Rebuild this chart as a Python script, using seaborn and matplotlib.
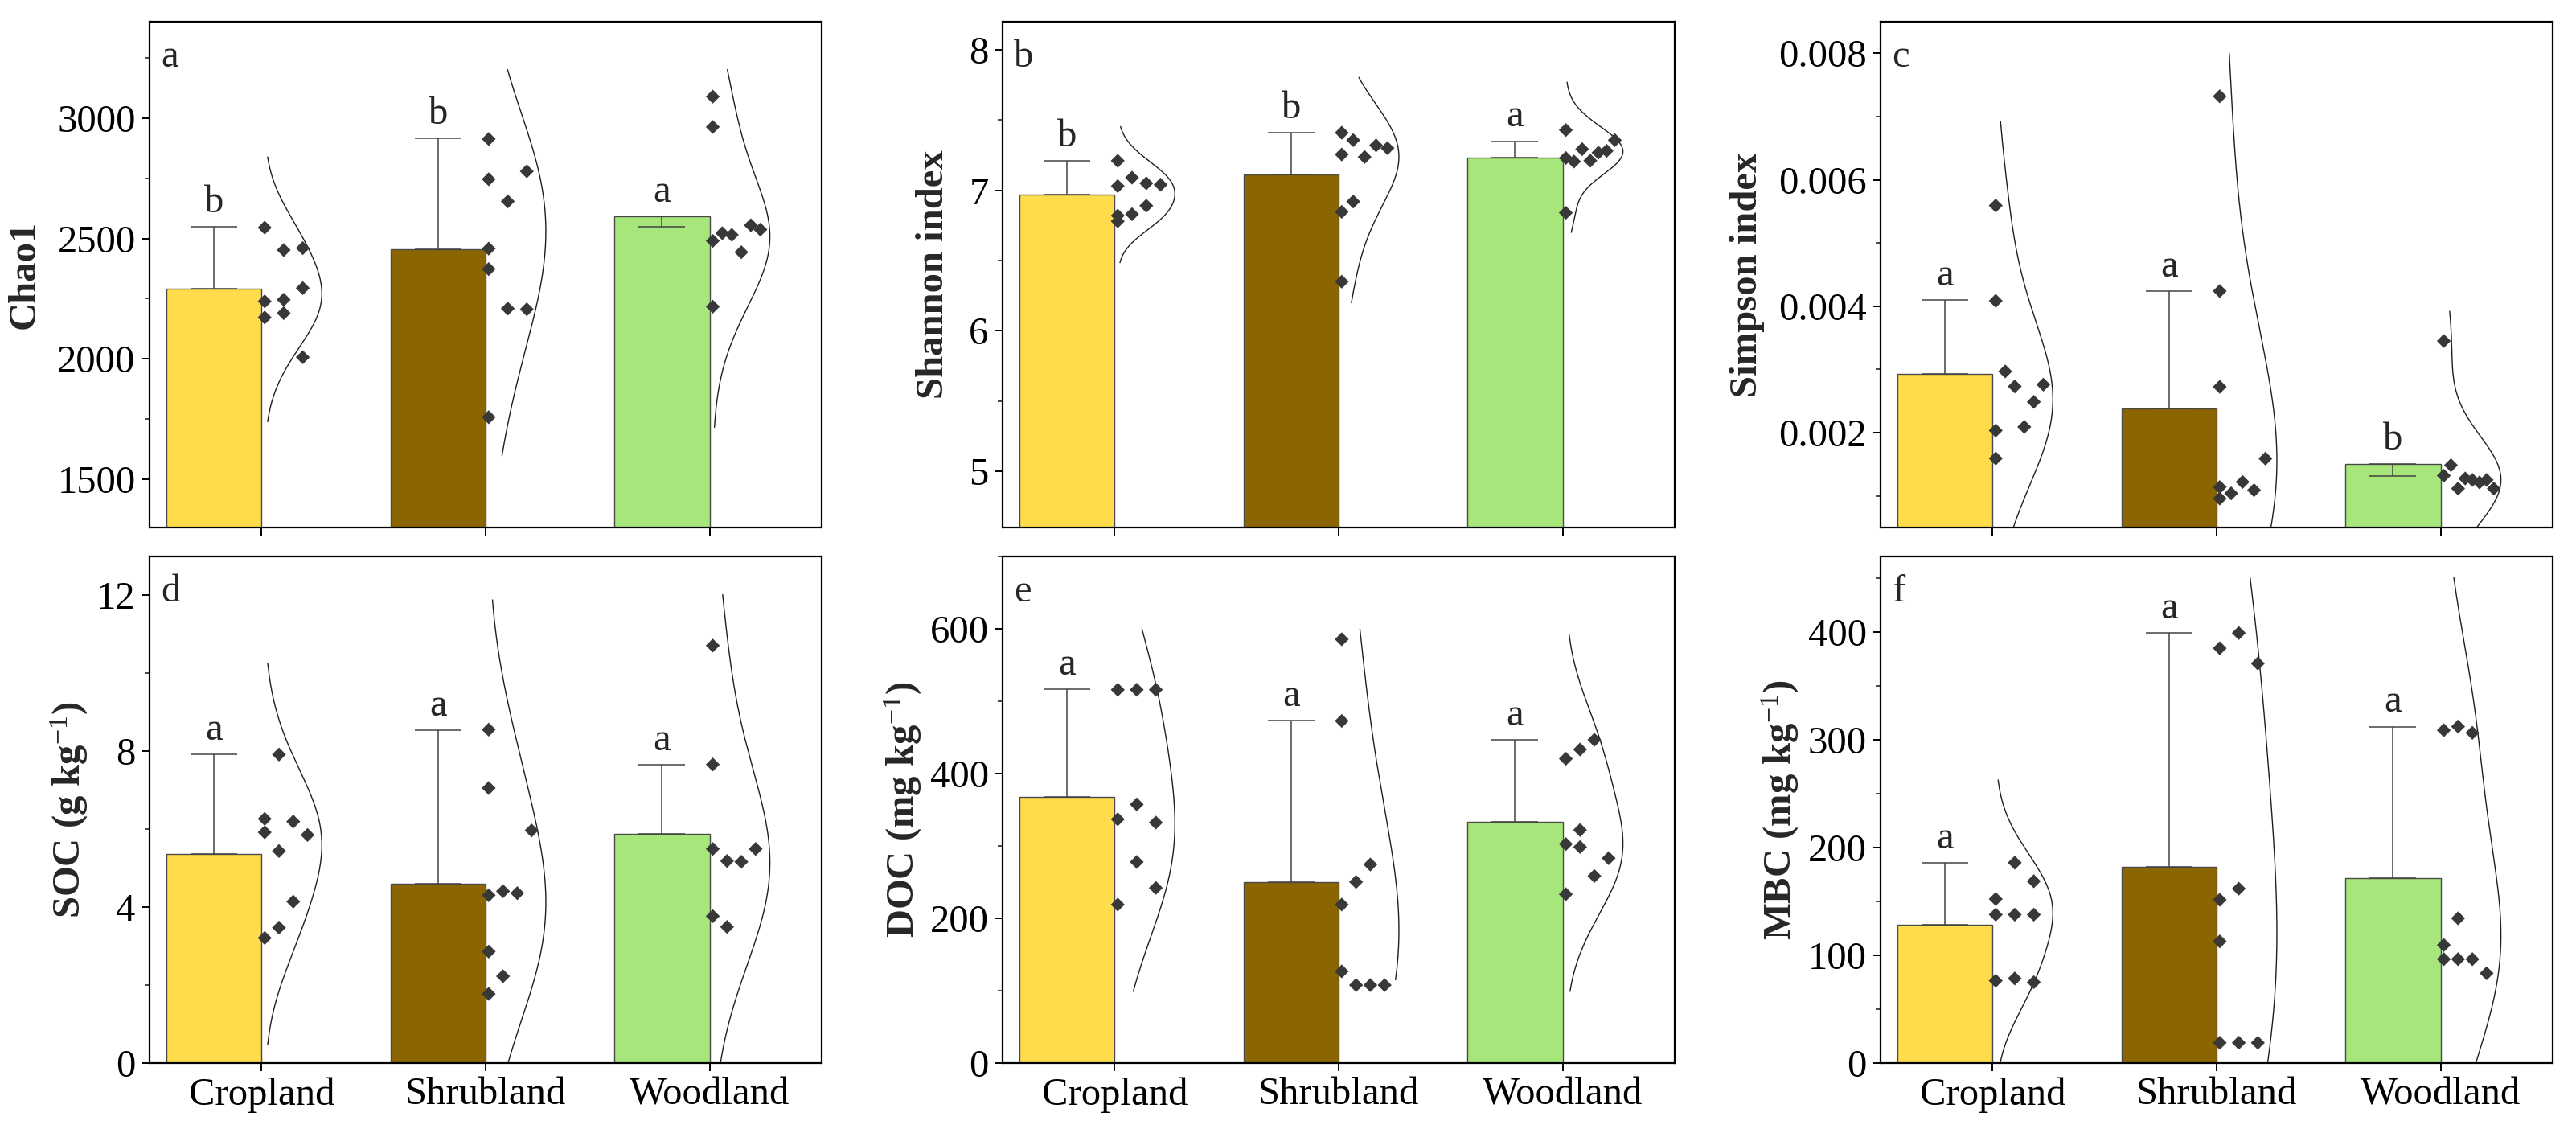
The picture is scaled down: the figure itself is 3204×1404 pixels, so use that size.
import numpy as np
import seaborn as sns
import matplotlib
matplotlib.use("Agg")
import matplotlib.pyplot as plt
from matplotlib.ticker import MultipleLocator, AutoMinorLocator, FormatStrFormatter

# --- DATOS ---
groups = ["Cropland", "Shrubland", "Woodland"]
bar_colors = ["#FFDC4B", "#8B6600", "#A6E67A"]

# a) Chao1
chao1_points = [
    [2545, 2239, 2172, 2452, 2246, 2190, 2460, 2294, 2007],
    [2913, 2746, 2458, 2373, 1758, 2654, 2209, 2779, 2206],
    [3089, 2963, 2490, 2217, 2522, 2515, 2443, 2555, 2537],
]
chao1_mean = [2290, 2455, 2591]
chao1_err_end = [2548, 2915, 2550]
chao1_letters = ["b", "b", "a"]
chao1_curve_lo = [1739, 1597, 1716]
chao1_curve_hi = [2839, 3201, 3201]

# b) Shannon
shannon_points = [
    [7.21, 7.03, 6.82, 6.78, 7.09, 6.83, 7.05, 6.89, 7.04],
    [7.41, 7.255, 6.847, 6.35, 7.357, 6.92, 7.237, 7.32, 7.30],
    [7.429, 7.230, 6.84, 7.205, 7.293, 7.211, 7.268, 7.281, 7.357],
]
shannon_mean = [6.97, 7.11, 7.235]
shannon_err_end = [7.209, 7.41, 7.35]
shannon_letters = ["b", "b", "a"]
shannon_curve_lo = [6.485, 6.20, 6.70]
shannon_curve_hi = [7.454, 7.804, 7.77]

# c) Simpson
simpson_points = [
    [0.005592, 0.004085, 0.002034, 0.001592, 0.002969, 0.002731, 0.002091, 0.002487, 0.00276],
    [0.00732, 0.00424, 0.002725, 0.00114, 0.000958, 0.00104, 0.00122, 0.00109, 0.00159],
    [0.00345, 0.00132, 0.001485, 0.001116, 0.001275, 0.001252, 0.001213, 0.001252, 0.001116],
]
simpson_mean = [0.002929, 0.00238, 0.001507]
simpson_err_end = [0.004096, 0.00424, 0.00132]
simpson_letters = ["a", "a", "b"]
simpson_curve_lo = [0.0, 0.0, 0.0]
simpson_curve_hi = [0.006916, 0.0080, 0.00392]

# d) SOC
soc_points = [
    [6.267, 5.922, 3.21, 7.918, 5.441, 3.476, 6.197, 4.143, 5.854],
    [8.557, 7.057, 4.307, 2.862, 1.775, 4.41, 2.229, 4.36, 5.97],
    [10.714, 7.662, 5.495, 3.770, 5.186, 3.494, 5.165, 5.495],
]
soc_mean = [5.371, 4.60, 5.876]
soc_err_end = [7.924, 8.543, 7.648]
soc_letters = ["a", "a", "a"]
soc_curve_lo = [0.476, 0.0, 0.0]
soc_curve_hi = [10.267, 11.886, 12.02]

# e) DOC
doc_points = [
    [515.9, 336.9, 219, 515.9, 357.4, 277.9, 515.9, 332.3, 242],
    [585.6, 472.8, 219, 126.7, 107.7, 250.3, 107.7, 274.4, 107.7],
    [420.5, 302.6, 233.3, 433.3, 322, 298.5, 446.7, 258.5, 283.1],
]
doc_mean = [368.2, 250.3, 333.3]
doc_err_end = [516.4, 473.3, 446.7]
doc_letters = ["a", "a", "a"]
doc_curve_lo = [99, 115, 99]
doc_curve_hi = [600, 600, 592]

# f) MBC
mbc_points = [
    [152.2, 137.7, 76.4, 185.9, 137.7, 78.5, 168.7, 137.7, 75],
    [384.9, 151.5, 112.9, 18.9, 399, 161.8, 18.9, 370.7, 18.9],
    [308.8, 109.5, 96.4, 312.2, 134.3, 96.4, 306.4, 96.4, 83.3],
]
mbc_mean = [128, 182.4, 171.8]
mbc_err_end = [185.9, 399, 312.2]
mbc_letters = ["a", "a", "a"]
mbc_curve_lo = [0, 0, 0]
mbc_curve_hi = [262.7, 450.3, 450.3]

# --- ESTILO ---
BAR_W = 0.425
PT_OFF = 0.014
CURVE_W = 0.255
FS = 35

sns.set_style("ticks")
plt.rcParams["font.family"] = ["Liberation Serif", "DejaVu Serif"]
plt.rcParams["mathtext.fontset"] = "custom"
plt.rcParams["mathtext.rm"] = "Liberation Serif"
plt.rcParams["mathtext.bf"] = "Liberation Serif:bold"
plt.rcParams["mathtext.it"] = "Liberation Serif:italic"


def bin_columns(vals, binw):
    # puntos del mismo intervalo se colocan uno al lado del otro
    counts = {}
    cols = []
    for v in vals:
        k = int(np.floor(v / binw + 1e-9))
        cols.append(counts.get(k, 0))
        counts[k] = counts.get(k, 0) + 1
    return np.array(cols), max(counts.values())


def kde_curve(vals, lo, hi):
    v = np.asarray(vals, float)
    h = 1.4 * 1.06 * v.std(ddof=1) * len(v) ** (-0.2)
    yy = np.linspace(lo, hi, 400)
    dens = np.exp(-0.5 * ((yy[:, None] - v[None, :]) / h) ** 2).sum(axis=1)
    return yy, dens / dens.max()


def draw_panel(ax, points, means, err_end, letters, curve_lo, curve_hi,
               ylim, major, binw, fmt, ylabel, tag, label_x, show_x):
    pos = np.arange(len(groups))
    sns.barplot(x=pos - BAR_W / 2, y=means, hue=groups, palette=bar_colors,
                native_scale=True, width=BAR_W, legend=False, errorbar=None,
                saturation=1, edgecolor="#4A4A4A", linewidth=1.0, ax=ax, zorder=1)

    for i in range(len(groups)):
        cx = pos[i] - BAR_W / 2
        m, e = means[i], err_end[i]
        ax.errorbar(cx, m, yerr=[[max(m - e, 0)], [max(e - m, 0)]], fmt="none",
                    ecolor="#444444", elinewidth=1.1, capsize=21, capthick=1.1, zorder=3)
        ax.annotate(letters[i], (cx, max(m, e)), xytext=(0, 13), textcoords="offset points",
                    ha="center", va="baseline", fontsize=FS)

        cols, nmax = bin_columns(points[i], binw)
        xs = pos[i] + PT_OFF + cols * (CURVE_W / nmax)
        ax.scatter(xs, points[i], marker="D", s=78, color="#383838",
                   edgecolors="none", zorder=4)

        yy, dens = kde_curve(points[i], curve_lo[i], curve_hi[i])
        ax.plot(pos[i] + PT_OFF + CURVE_W * dens, yy, color="#1E1E1E", lw=1.0, zorder=2)

    ax.set_xlim(-0.5, 2.5)
    ax.set_ylim(*ylim)
    ax.set_xticks(pos)
    ax.set_xticklabels(groups if show_x else [])
    ax.set_xlabel("")
    ax.yaxis.set_major_locator(MultipleLocator(major))
    ax.yaxis.set_minor_locator(AutoMinorLocator(2))
    ax.yaxis.set_major_formatter(FormatStrFormatter(fmt))
    ax.set_ylabel(ylabel, fontsize=FS, fontweight="bold")
    ax.yaxis.set_label_coords(label_x, 0.5)

    for sp in ax.spines.values():
        sp.set_visible(True)
        sp.set_linewidth(1.6)
        sp.set_color("black")
    ax.tick_params(axis="both", which="major", direction="out", length=7.5, width=1.4,
                   labelsize=FS, pad=5, colors="black")
    ax.tick_params(axis="y", which="minor", direction="out", length=4, width=1.2)
    ax.tick_params(axis="x", which="minor", bottom=False)
    ax.text(0.017, 0.965, tag, transform=ax.transAxes, ha="left", va="top", fontsize=FS)


fig = plt.figure(figsize=(32.05, 14.04), dpi=100)
lefts = [0.05803, 0.38908, 0.72980]
width = 0.26084
rows = [(0.53276, 0.4480), (0.05840, 0.4487)]

panels = [
    (chao1_points, chao1_mean, chao1_err_end, chao1_letters, chao1_curve_lo, chao1_curve_hi,
     (1300, 3400), 500, 200, "%g", "Chao1", "a", -0.159),
    (shannon_points, shannon_mean, shannon_err_end, shannon_letters, shannon_curve_lo, shannon_curve_hi,
     (4.6, 8.2), 1, 0.2, "%g", "Shannon index", "b", -0.077),
    (simpson_points, simpson_mean, simpson_err_end, simpson_letters, simpson_curve_lo, simpson_curve_hi,
     (0.0005, 0.0085), 0.002, 0.001, "%.3f", "Simpson index", "c", -0.172),
    (soc_points, soc_mean, soc_err_end, soc_letters, soc_curve_lo, soc_curve_hi,
     (0, 13), 4, 2, "%g", "SOC (g kg$^{-1}$)", "d", -0.0885),
    (doc_points, doc_mean, doc_err_end, doc_letters, doc_curve_lo, doc_curve_hi,
     (0, 700), 200, 100, "%g", "DOC (mg kg$^{-1}$)", "e", -0.117),
    (mbc_points, mbc_mean, mbc_err_end, mbc_letters, mbc_curve_lo, mbc_curve_hi,
     (0, 470), 100, 50, "%g", "MBC (mg kg$^{-1}$)", "f", -0.118),
]

for k, p in enumerate(panels):
    r, c = divmod(k, 3)
    ax = fig.add_axes([lefts[c], rows[r][0], width, rows[r][1]])
    draw_panel(ax, *p, show_x=(r == 1))

fig.savefig("out.png", dpi=100, facecolor="white")
plt.close(fig)
